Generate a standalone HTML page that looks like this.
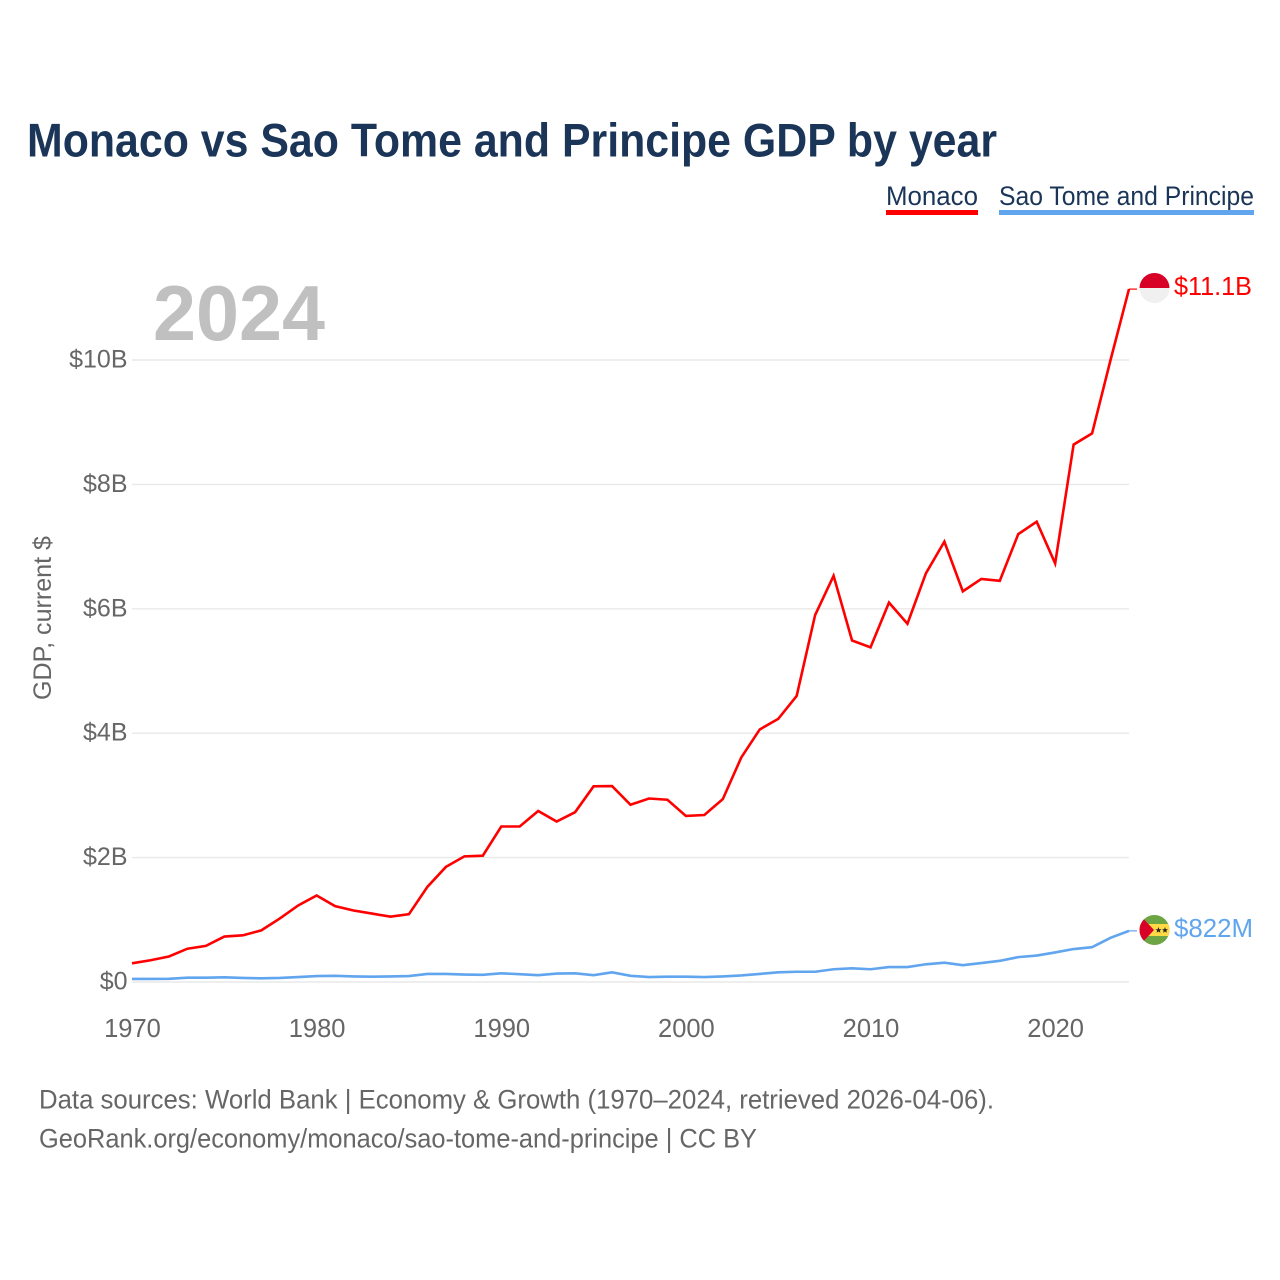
<!DOCTYPE html>
<html lang="en">
<head>
<meta charset="utf-8">
<title>Monaco vs Sao Tome and Principe GDP by year</title>
<style>
  html, body { margin: 0; padding: 0; background: #fff; }
  svg { display: block; font-family: "Liberation Sans", sans-serif; }
</style>
</head>
<body>
<svg id="chart" xmlns="http://www.w3.org/2000/svg" width="1280" height="1280" viewBox="0 0 1280 1280">
  <defs>
    <clipPath id="clip-mc"><circle cx="1154.5" cy="288" r="15"/></clipPath>
    <clipPath id="clip-st"><circle cx="1154.5" cy="930" r="15"/></clipPath>
  </defs>
  <rect x="0" y="0" width="1280" height="1280" fill="#ffffff"/>
  <text x="27" y="156.5" font-size="47" font-weight="700" fill="#1a3557" textLength="970" lengthAdjust="spacingAndGlyphs">Monaco vs Sao Tome and Principe GDP by year</text>

  <g>
    <g>
      <text x="886" y="205" font-size="27" fill="#1a3557" textLength="92" lengthAdjust="spacingAndGlyphs">Monaco</text>
      <rect x="886" y="210" width="92" height="5" fill="#ff0000"/>
    </g>
    <g>
      <text x="999" y="205" font-size="27" fill="#1a3557" textLength="255" lengthAdjust="spacingAndGlyphs">Sao Tome and Principe</text>
      <rect x="999" y="210" width="255" height="5" fill="#60a5ee"/>
    </g>
  </g>

  <text x="153" y="340" font-size="78" font-weight="700" fill="#c0c0c0" textLength="172" lengthAdjust="spacingAndGlyphs">2024</text>
  <text transform="translate(51,700) rotate(-90)" font-size="25" fill="#666666" textLength="164" lengthAdjust="spacingAndGlyphs">GDP, current $</text>

  <g id="grid"></g>
  <g id="y-ticks"></g>
  <g id="x-ticks"></g>
  <g id="series"></g>

  <g id="flag-mc">
    <g clip-path="url(#clip-mc)">
      <rect x="1139" y="272" width="31" height="16" fill="#d80027"/>
      <rect x="1139" y="288" width="31" height="16" fill="#f0f0f0"/>
    </g>
  </g>
  <g id="flag-st">
    <g clip-path="url(#clip-st)">
      <rect x="1139" y="914" width="31" height="32" fill="#6da544"/>
      <rect x="1139" y="924" width="31" height="12" fill="#ffda44"/>
      <polygon points="1139,914 1154,930 1139,946" fill="#d80027"/>
      <polygon points="1158.5,927 1159.3,929.2 1161.5,929.2 1159.8,930.6 1160.4,932.8 1158.5,931.5 1156.6,932.8 1157.2,930.6 1155.5,929.2 1157.7,929.2" fill="#222"/>
      <polygon points="1165,927 1165.8,929.2 1168,929.2 1166.3,930.6 1166.9,932.8 1165,931.5 1163.1,932.8 1163.7,930.6 1162,929.2 1164.2,929.2" fill="#222"/>
    </g>
  </g>

  <text x="1174" y="295" font-size="25.5" fill="#ff0000" textLength="78" lengthAdjust="spacingAndGlyphs">$11.1B</text>
  <text x="1174" y="937" font-size="25.5" fill="#60a5ee" textLength="79" lengthAdjust="spacingAndGlyphs">$822M</text>

  <text x="39" y="1108.5" font-size="27" fill="#666666" textLength="955" lengthAdjust="spacingAndGlyphs">Data sources: World Bank | Economy &amp; Growth (1970–2024, retrieved 2026-04-06).</text>
  <text x="39" y="1147.5" font-size="27" fill="#666666" textLength="718" lengthAdjust="spacingAndGlyphs">GeoRank.org/economy/monaco/sao-tome-and-principe | CC BY</text>
</svg>
<script>
const years = [1970,1971,1972,1973,1974,1975,1976,1977,1978,1979,1980,1981,1982,1983,1984,1985,1986,1987,1988,1989,1990,1991,1992,1993,1994,1995,1996,1997,1998,1999,2000,2001,2002,2003,2004,2005,2006,2007,2008,2009,2010,2011,2012,2013,2014,2015,2016,2017,2018,2019,2020,2021,2022,2023,2024];
const monacoGdp = [0.30,0.35,0.41,0.535,0.58,0.73,0.75,0.83,1.02,1.23,1.39,1.22,1.15,1.10,1.05,1.09,1.53,1.85,2.02,2.03,2.50,2.50,2.75,2.58,2.73,3.146,3.15,2.85,2.95,2.93,2.67,2.685,2.94,3.61,4.06,4.23,4.60,5.90,6.53,5.49,5.38,6.10,5.76,6.57,7.08,6.28,6.48,6.45,7.20,7.40,6.73,8.64,8.82,10.0,11.14];
const saoTomeGdp = [0.05,0.05,0.052,0.07,0.07,0.075,0.065,0.06,0.065,0.08,0.096,0.10,0.09,0.085,0.09,0.095,0.129,0.13,0.12,0.115,0.14,0.125,0.11,0.135,0.14,0.11,0.155,0.10,0.08,0.085,0.085,0.08,0.09,0.105,0.13,0.155,0.165,0.165,0.205,0.22,0.205,0.24,0.24,0.285,0.31,0.27,0.305,0.34,0.40,0.425,0.475,0.53,0.56,0.71,0.822];
const yTickValues = [0,2,4,6,8,10];
const yTickLabels = ['$0','$2B','$4B','$6B','$8B','$10B'];
const xTickValues = [1970,1980,1990,2000,2010,2020];
const xTickLabels = ['1970','1980','1990','2000','2010','2020'];

const NS = 'http://www.w3.org/2000/svg';
const xScale = function (year) { return 132 + (year - 1970) * (1129 - 132) / 54; };
const yScale = function (v) { return 982 - v * 62.2; };

const grid = document.getElementById('grid');
const yTicks = document.getElementById('y-ticks');
const xTicks = document.getElementById('x-ticks');
const seriesGroup = document.getElementById('series');

yTickValues.forEach(function (v, i) {
  const line = document.createElementNS(NS, 'line');
  
  
  line.setAttribute('x1', xScale(1970));
  line.setAttribute('x2', xScale(2024));
  line.setAttribute('y1', yScale(v));
  line.setAttribute('y2', yScale(v));
  line.setAttribute('stroke', '#e9e9e9');
  line.setAttribute('stroke-width', '1.4');
  grid.appendChild(line);

  const label = document.createElementNS(NS, 'text');
  
  
  label.setAttribute('x', 127.5);
  label.setAttribute('y', yScale(v) + 7.5);
  label.setAttribute('text-anchor', 'end');
  label.setAttribute('font-size', '25');
  label.setAttribute('fill', '#666666');
  label.textContent = yTickLabels[i];
  yTicks.appendChild(label);
});

xTickValues.forEach(function (v, i) {
  const label = document.createElementNS(NS, 'text');
  
  
  label.setAttribute('x', xScale(v) + 0.5);
  label.setAttribute('y', 1037);
  label.setAttribute('text-anchor', 'middle');
  label.setAttribute('font-size', '25.5');
  label.setAttribute('fill', '#666666');
  label.textContent = xTickLabels[i];
  xTicks.appendChild(label);
});

function linePoints(values) {
  return values.map(function (v, i) {
    return xScale(years[i]).toFixed(2) + ',' + yScale(v).toFixed(2);
  }).join(' ');
}

const monacoLine = document.createElementNS(NS, 'polyline');


monacoLine.setAttribute('points', linePoints(monacoGdp));
monacoLine.setAttribute('fill', 'none');
monacoLine.setAttribute('stroke', '#ff0000');
monacoLine.setAttribute('stroke-width', '2.6');
seriesGroup.appendChild(monacoLine);

const saoTomeLine = document.createElementNS(NS, 'polyline');


saoTomeLine.setAttribute('points', linePoints(saoTomeGdp));
saoTomeLine.setAttribute('fill', 'none');
saoTomeLine.setAttribute('stroke', '#60a5ee');
saoTomeLine.setAttribute('stroke-width', '2.6');
seriesGroup.appendChild(saoTomeLine);

const monacoConnector = document.createElementNS(NS, 'line');


monacoConnector.setAttribute('x1', xScale(2024));
monacoConnector.setAttribute('x2', xScale(2024) + 8);
monacoConnector.setAttribute('y1', yScale(monacoGdp[monacoGdp.length - 1]));
monacoConnector.setAttribute('y2', yScale(monacoGdp[monacoGdp.length - 1]));
monacoConnector.setAttribute('stroke', '#ff0000');
monacoConnector.setAttribute('stroke-width', '1.2');
seriesGroup.appendChild(monacoConnector);

const saoTomeConnector = document.createElementNS(NS, 'line');


saoTomeConnector.setAttribute('x1', xScale(2024));
saoTomeConnector.setAttribute('x2', xScale(2024) + 8);
saoTomeConnector.setAttribute('y1', yScale(saoTomeGdp[saoTomeGdp.length - 1]));
saoTomeConnector.setAttribute('y2', yScale(saoTomeGdp[saoTomeGdp.length - 1]));
saoTomeConnector.setAttribute('stroke', '#60a5ee');
saoTomeConnector.setAttribute('stroke-width', '1.2');
seriesGroup.appendChild(saoTomeConnector);
</script>
</body>
</html>
